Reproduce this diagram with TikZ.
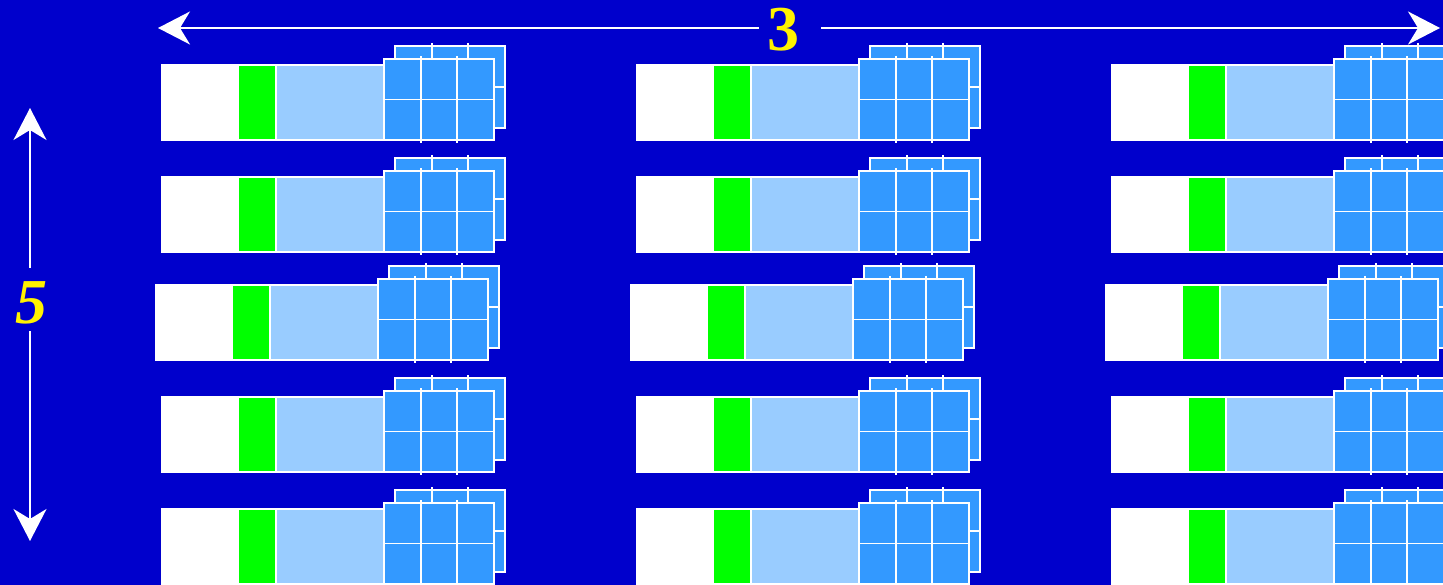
\documentclass[tikz,border=0pt]{standalone}
\usepackage{fontspec}
\setmainfont{Liberation Serif}
\usetikzlibrary{arrows.meta}

\definecolor{rackblue}{HTML}{0000CC}
\definecolor{bayblue}{HTML}{99CCFF}
\definecolor{gridblue}{HTML}{3399FF}
\definecolor{ledgreen}{HTML}{00FF00}

\tikzset{
  gridline/.style={draw=white, line width=1.8pt},
  dimline/.style={white, line width=2pt, -{Stealth[length=32pt, width=33pt, inset=10pt]}},
  dimlabel/.style={text=yellow, inner sep=0pt, font=\fontsize{64}{64}\selectfont\bfseries},
  blade/.pic={
    % chassis and bay
    \filldraw[fill=white, draw=white, line width=1.2pt] (0,0) rectangle (222,75);
    \fill[ledgreen] (77,1) rectangle (114,74);
    \filldraw[fill=bayblue, draw=white, line width=1.4pt] (114,0) rectangle (222,75);
    % rear grid
    \filldraw[fill=gridblue, gridline] (233,-19) rectangle (343,63);
    \draw[gridline] (233,22) -- (343,22);
    \foreach \gx in {269.67,306.33} \draw[gridline] (\gx,-22) -- (\gx,63);
    % front grid
    \filldraw[fill=gridblue, gridline] (222,-6) rectangle (332,75);
    \draw[gridline] (222,34.5) -- (332,34.5);
    \foreach \gx in {258.67,295.33} \draw[gridline] (\gx,-9) -- (\gx,78);
  }
}

\begin{document}
\begin{tikzpicture}[x=1pt, y=-1pt]
\useasboundingbox (0,0) rectangle (1443,585);
\fill[rackblue] (0,0) rectangle (1443,585);
\clip (0,0) rectangle (1443,585);

% 3 columns x 5 rows of blades
\foreach \cx in {162,637,1112}
  \foreach \ry/\dx in {65/0, 177/0, 285/-6, 397/0, 509/0}
    \pic at ({\cx+\dx},\ry) {blade};

% width: 3
\node[dimlabel] (lbl3) at (783,30) {3};
\coordinate (topL) at (158,28);
\coordinate (topR) at (1440,28);
\coordinate (gapL) at (759,28);
\coordinate (gapR) at (821,28);
\draw[dimline] (gapL) -- (topL);
\draw[dimline] (gapR) -- (topR);

% height: 5
\node[dimlabel, font=\fontsize{64}{64}\selectfont\bfseries\itshape] (lbl5) at (31,303) {5};
\coordinate (sideT) at (30,108);
\coordinate (sideB) at (30,541);
\coordinate (gapT) at (30,268);
\coordinate (gapB) at (30,331);
\draw[dimline] (gapT) -- (sideT);
\draw[dimline] (gapB) -- (sideB);
\end{tikzpicture}
\end{document}
